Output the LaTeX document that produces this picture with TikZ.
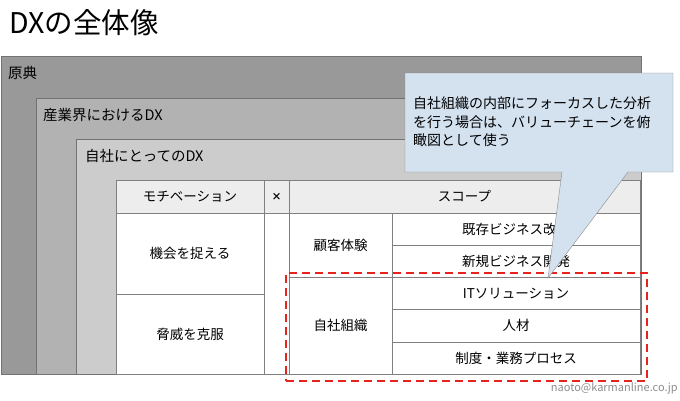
\documentclass[tikz,border=0pt]{standalone}
\usepackage{fontspec}
\setmainfont{Noto Sans CJK JP}
\usepackage{xcolor}
\usetikzlibrary{positioning}
\colorlet{layerdark}{black!40}
\colorlet{layermid}{black!30}
\colorlet{layerlight}{black!20}
\colorlet{gridline}{black!50}
\definecolor{notefill}{HTML}{D4E2F0}
\definecolor{focusred}{HTML}{E8231E}

\begin{document}
\begin{tikzpicture}[x=1pt,y=-1pt,
    layer/.style={draw=black!55,anchor=north west,inner sep=0,outer sep=0},
    layertext/.style={anchor=base west,inner sep=0,font=\fontsize{14.5}{17}\selectfont},
    cell/.style={draw=gridline,fill=white,anchor=north west,inner sep=0,outer sep=0,
        font=\fontsize{13.5}{16}\selectfont},
    head/.style={cell,fill=black!7}]
    \useasboundingbox (0,0) rectangle (680,400);

    % title
    \node[anchor=base west,inner sep=0,font=\fontsize{28.5}{32}\selectfont] (title) at (9,33) {DXの全体像};

    % nested layers
    \node[layer,fill=layerdark,minimum width=640,minimum height=318] (gen) at (1,56) {};
    \node[layertext] (genlbl) at (8,78) {原典};
    \node[layer,fill=layermid,minimum width=605,minimum height=276] (ind) at (36,98) {};
    \node[layertext] (indlbl) at (43,120) {産業界におけるDX};
    \node[layer,fill=layerlight,minimum width=565,minimum height=235] (own) at (76,139) {};
    \node[layertext] (ownlbl) at (85,161) {自社にとってのDX};

    % table header
    \node[head,minimum width=148,minimum height=33] (motiv) at (116,180) {モチベーション};
    \node[head,minimum width=25,minimum height=33,font=\fontsize{10}{11}\selectfont\bfseries] (times) at (264,180) {×};
    \node[head,minimum width=351,minimum height=33] (scope) at (289,180) {スコープ};

    % motivation column
    \node[cell,minimum width=148,minimum height=81] (chance) at (116,213) {機会を捉える};
    \node[cell,minimum width=148,minimum height=80,below=0pt of chance] (threat) {脅威を克服};
    \node[cell,minimum width=25,minimum height=161] (gap) at (264,213) {};

    % scope columns
    \node[cell,minimum width=103,minimum height=64] (cx) at (289,213) {顧客体験};
    \node[cell,minimum width=103,minimum height=97,below=0pt of cx] (org) {自社組織};
    \node[cell,minimum width=248,minimum height=32.2] (improve) at (392,213) {既存ビジネス改善};
    \node[cell,minimum width=248,minimum height=32.2,below=0pt of improve] (newbiz) {新規ビジネス開発};
    \node[cell,minimum width=248,minimum height=32.2,below=0pt of newbiz] (itsol) {ITソリューション};
    \node[cell,minimum width=248,minimum height=32.2,below=0pt of itsol] (people) {人材};
    \node[cell,minimum width=248,minimum height=32.2,below=0pt of people] (process) {制度・業務プロセス};

    % focus area
    \node[draw=focusred,line width=2pt,dash pattern=on 8pt off 5pt,anchor=north west,
        inner sep=0,minimum width=361,minimum height=108] (focus) at (285,272) {};

    % callout
    \coordinate (nw) at (405,73);
    \coordinate (se) at (673,172);
    \coordinate (tip) at (548,278);
    \draw[fill=notefill,draw=black!45] (nw) -- (se |- nw) -- (se) -- (628,172) -- (tip)
        -- (562,172) -- (nw |- se) -- cycle;
    \node[anchor=north west,inner sep=0,align=left,
        font=\fontsize{14}{18.5}\selectfont] (note) at (413,97)
        {自社組織の内部にフォーカスした分析\\を行う場合は、バリューチェーンを俯\\瞰図として使う};

    % footer
    \node[anchor=base east,inner sep=0,text=black!45,font=\fontsize{11}{13}\selectfont] (credit)
        at (678,391) {naoto@karmanline.co.jp};
\end{tikzpicture}
\end{document}
